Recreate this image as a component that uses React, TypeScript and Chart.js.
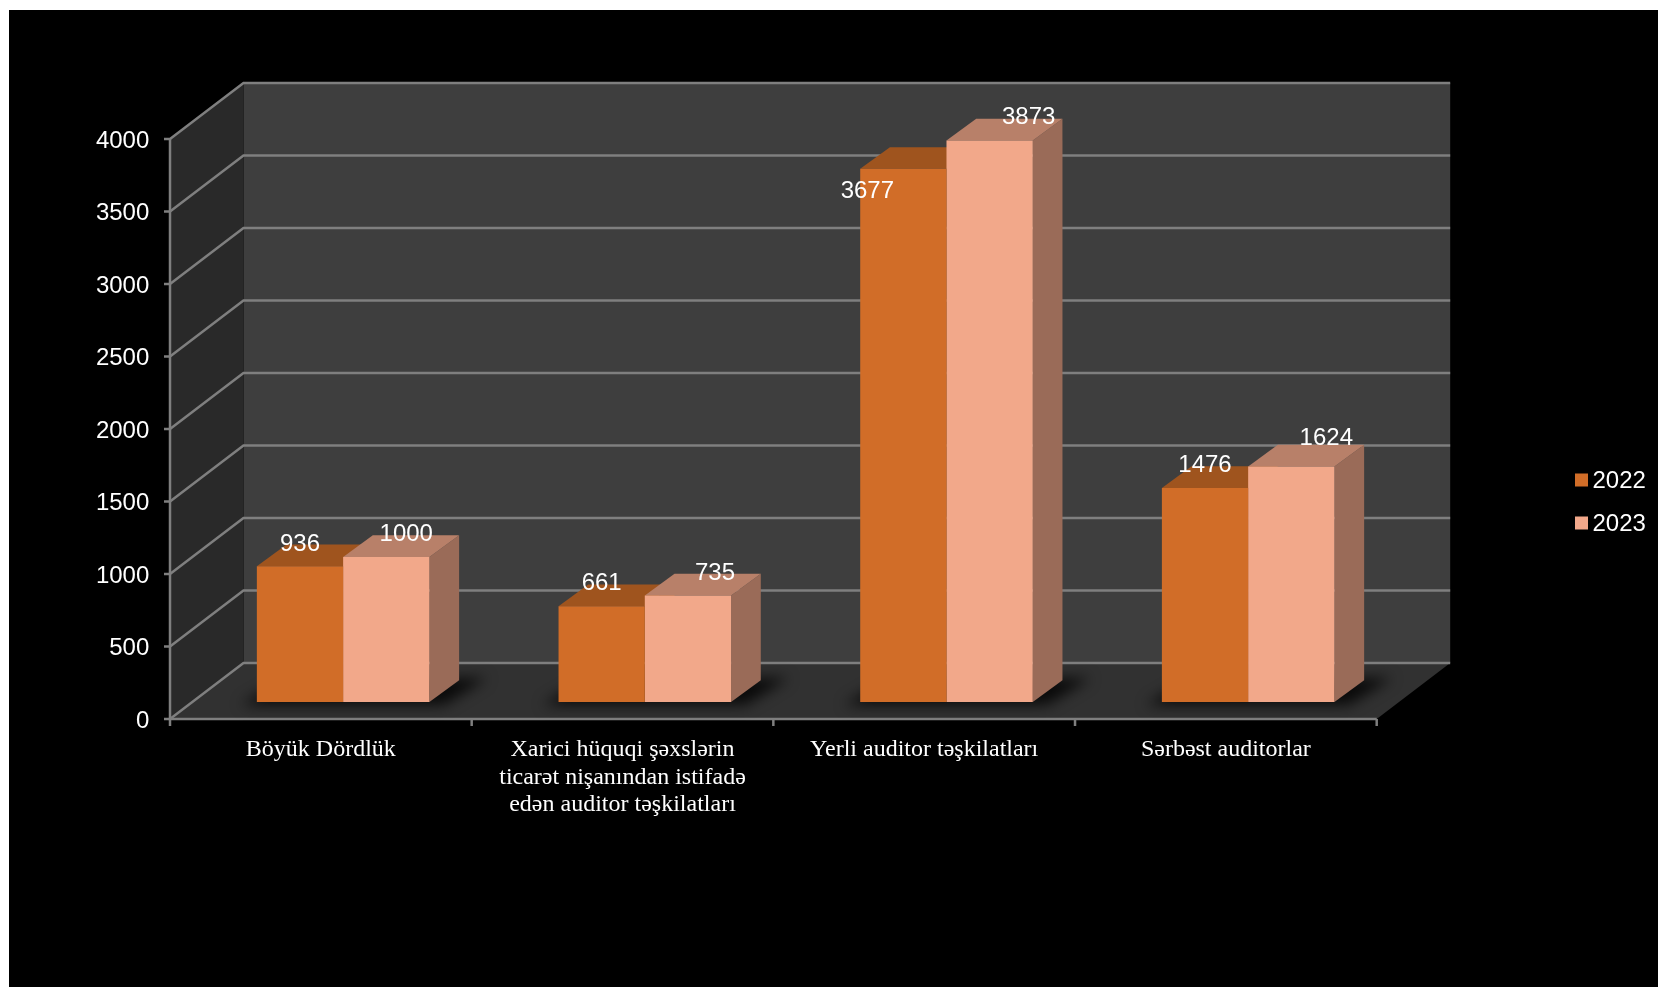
import React, { useEffect, useRef } from "react";
import { Chart, registerables } from "chart.js";

Chart.register(...registerables);

const categories = [
  "Böyük Dördlük",
  ["Xarici hüquqi şəxslərin", "ticarət nişanından istifadə", "edən auditor təşkilatları"],
  "Yerli auditor təşkilatları",
  "Sərbəst auditorlar",
];
const values2022 = [936, 661, 3677, 1476];
const values2023 = [1000, 735, 3873, 1624];
const seriesNames = ["2022", "2023"];

const CANVAS_W = 1649;
const CANVAS_H = 977;
const FRONT = { dx: -22.3, dy: 17 };
const BACK = { dx: 51.2, dy: -39 };
const BAR_DEPTH = { dx: 29.7, dy: -21.7 };
const GRID = "#7f7f7f";
const FRONT_COLORS = ["#d16d28", "#f2a88a"];
const TOP_COLORS = ["#9f541e", "#b88069"];
const SIDE_COLORS = ["#8f4c1c", "#9a6b58"];
const LABEL_NUDGE = [
  [[0, -24], [20, -25]],
  [[0, -25], [27, -24]],
  [[-36, 21], [39, -25]],
  [[0, -25], [35, -30]],
];

function poly(ctx: CanvasRenderingContext2D, pts: number[][], fill: string) {
  ctx.beginPath();
  pts.forEach((p, i) => (i ? ctx.lineTo(p[0], p[1]) : ctx.moveTo(p[0], p[1])));
  ctx.closePath();
  ctx.fillStyle = fill;
  ctx.fill();
}

const scenePlugin = {
  id: "scene",
  beforeDraw(chart: any) {
    const { ctx, width, height, chartArea: a, scales } = chart;
    const y = scales.y;
    ctx.save();
    ctx.fillStyle = "#000";
    ctx.fillRect(0, 0, width, height);
    const x0 = a.left + FRONT.dx;
    const x1 = a.right + FRONT.dx;
    const bx0 = a.left + BACK.dx;
    const bx1 = a.right + BACK.dx;
    const p = (v: number) => y.getPixelForValue(v);
    poly(ctx, [[bx0, p(4000) + BACK.dy], [bx1, p(4000) + BACK.dy], [bx1, p(0) + BACK.dy], [bx0, p(0) + BACK.dy]], "#3e3e3e");
    poly(ctx, [[x0, p(4000) + FRONT.dy], [bx0, p(4000) + BACK.dy], [bx0, p(0) + BACK.dy], [x0, p(0) + FRONT.dy]], "#292929");
    poly(ctx, [[x0, p(0) + FRONT.dy], [x1, p(0) + FRONT.dy], [bx1, p(0) + BACK.dy], [bx0, p(0) + BACK.dy]], "#313131");
    ctx.strokeStyle = GRID;
    ctx.lineWidth = 2.5;
    y.ticks.forEach((t: any) => {
      const py = p(t.value);
      ctx.beginPath();
      ctx.moveTo(x0 - 6, py + FRONT.dy);
      ctx.lineTo(x0, py + FRONT.dy);
      ctx.lineTo(bx0, py + BACK.dy);
      ctx.lineTo(bx1, py + BACK.dy);
      ctx.stroke();
    });
    ctx.beginPath();
    ctx.moveTo(x0, p(4000) + FRONT.dy);
    ctx.lineTo(x0, p(0) + FRONT.dy);
    ctx.lineTo(x1, p(0) + FRONT.dy);
    ctx.stroke();
    for (let i = 0; i <= categories.length; i++) {
      const tx = x0 + ((x1 - x0) * i) / categories.length;
      ctx.beginPath();
      ctx.moveTo(tx, p(0) + FRONT.dy);
      ctx.lineTo(tx, p(0) + FRONT.dy + 7);
      ctx.stroke();
    }
    ctx.restore();
  },
  beforeDatasetsDraw(chart: any) {
    const { ctx } = chart;
    const m0 = chart.getDatasetMeta(0).data;
    const m1 = chart.getDatasetMeta(1).data;
    ctx.save();
    m0.forEach((bar: any, i: number) => {
      const L = bar.x - bar.width / 2;
      const R = m1[i].x + m1[i].width / 2;
      const B = bar.base;
      ctx.save();
      ctx.filter = "blur(7px)";
      poly(ctx, [[L - 16, B + 3], [R + 14, B + 3], [R + BAR_DEPTH.dx + 28, B - 24], [L + BAR_DEPTH.dx, B - 24]], "rgba(0,0,0,0.8)");
      ctx.restore();
    });
    [m0, m1].forEach((bars: any[], s: number) => {
      bars.forEach((bar: any) => {
        const L = bar.x - bar.width / 2;
        const R = bar.x + bar.width / 2;
        const T = bar.y;
        const B = bar.base;
        const { dx, dy } = BAR_DEPTH;
        poly(ctx, [[R, T], [R + dx, T + dy], [R + dx, B + dy], [R, B]], SIDE_COLORS[s]);
        poly(ctx, [[L, T], [L + dx, T + dy], [R + dx, T + dy], [R, T]], TOP_COLORS[s]);
      });
    });
    ctx.restore();
  },
  afterDatasetsDraw(chart: any) {
    const { ctx } = chart;
    ctx.save();
    ctx.font = '24px "Liberation Sans"';
    ctx.fillStyle = "#fff";
    ctx.textAlign = "center";
    ctx.textBaseline = "middle";
    chart.data.datasets.forEach((ds: any, s: number) => {
      chart.getDatasetMeta(s).data.forEach((bar: any, i: number) => {
        const n = LABEL_NUDGE[i][s];
        ctx.fillText(String(ds.data[i]), bar.x + n[0], bar.y + n[1] + 2);
      });
    });
    ctx.textAlign = "left";
    chart.data.datasets.forEach((ds: any, s: number) => {
      const cy = 470 + s * 43;
      ctx.fillStyle = ds.backgroundColor;
      ctx.fillRect(1566, cy - 6.5, 13, 13);
      ctx.fillStyle = "#fff";
      ctx.fillText(ds.label, 1583.5, cy + 1);
    });
    ctx.restore();
  },
};

export default function App() {
  const ref = useRef<HTMLCanvasElement>(null);
  useEffect(() => {
    const chart = new Chart(ref.current!, {
      type: "bar",
      data: {
        labels: categories as any,
        datasets: [
          { label: seriesNames[0], data: values2022, backgroundColor: FRONT_COLORS[0] },
          { label: seriesNames[1], data: values2023, backgroundColor: FRONT_COLORS[1] },
        ],
      },
      plugins: [scenePlugin],
      options: {
        responsive: false,
        animation: false,
        layout: { padding: { top: 112, right: 259, left: 0, bottom: 0 } },
        plugins: { legend: { display: false }, tooltip: { enabled: false } },
        datasets: { bar: { barPercentage: 1, categoryPercentage: 0.572 } },
        scales: {
          x: {
            afterFit: (s: any) => { s.height = 285; },
            grid: { display: false, drawTicks: false },
            border: { display: false },
            ticks: {
              color: "#fff",
              autoSkip: false,
              maxRotation: 0,
              minRotation: 0,
              padding: 33.5,
              labelOffset: FRONT.dy * 0 + FRONT.dx,
              font: { family: '"Liberation Serif"', size: 24, lineHeight: 1.16 },
            },
          },
          y: {
            min: 0,
            max: 4000,
            afterFit: (s: any) => { s.width = 183.3; },
            grid: { display: false, drawTicks: false },
            border: { display: false },
            ticks: {
              stepSize: 500,
              color: "#fff",
              padding: 43,
              labelOffset: FRONT.dy + 2,
              callback: (v: any) => String(v),
              font: { family: '"Liberation Sans"', size: 24 },
            },
          },
        },
      } as any,
    });
    return () => chart.destroy();
  }, []);
  return (
    <canvas
      ref={ref}
      width={CANVAS_W}
      height={CANVAS_H}
      style={{ position: "absolute", left: 9, top: 10, display: "block" }}
    />
  );
}
